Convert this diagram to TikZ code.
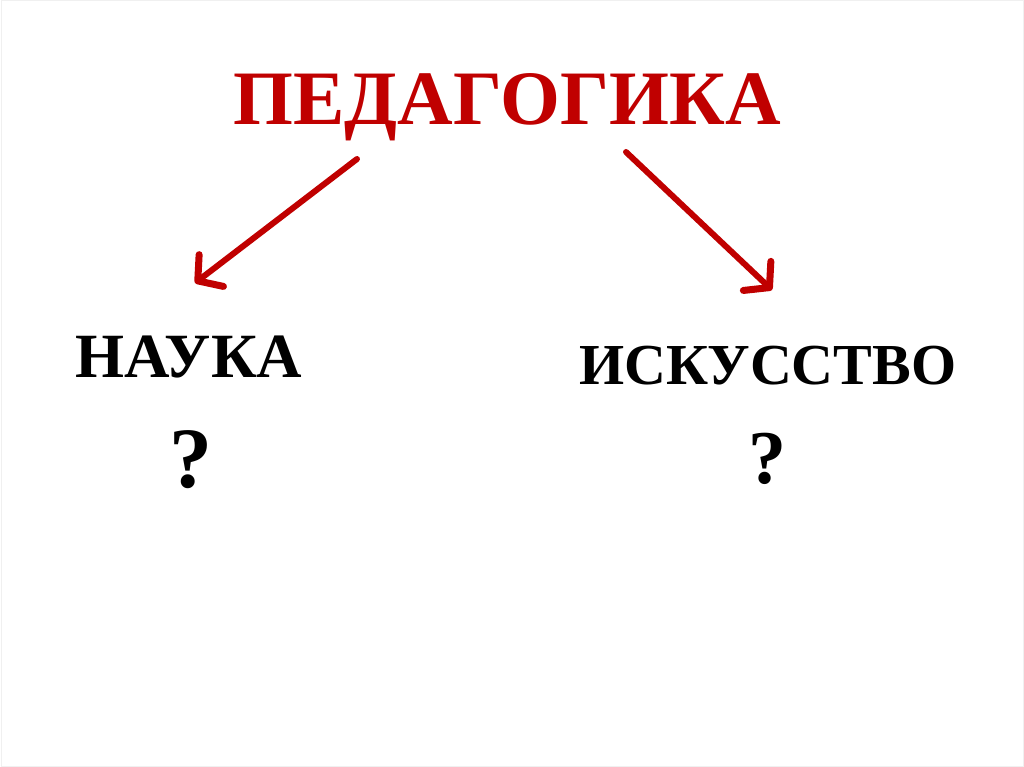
\documentclass[tikz,border=0pt]{standalone}
\usepackage{fontspec}
\setmainfont{Liberation Serif}
\usetikzlibrary{arrows.meta}
\definecolor{titlered}{HTML}{C00000}
\definecolor{arrowred}{HTML}{C00000}
\tikzset{
  titletext/.style={font=\fontsize{77}{85}\selectfont\bfseries, text=titlered, inner sep=0pt},
  naukatext/.style={font=\fontsize{63}{70}\selectfont\bfseries, text=black, inner sep=0pt},
  isktext/.style={font=\fontsize{58}{65}\selectfont\bfseries, text=black, inner sep=0pt},
  qone/.style={font=\fontsize{86}{90}\selectfont\bfseries, text=black, inner sep=0pt},
  qtwo/.style={font=\fontsize{76}{80}\selectfont\bfseries, text=black, inner sep=0pt},
  redarrow/.style={draw=arrowred, line width=6pt, line cap=round,
    -{Straight Barb[length=17pt,width=40pt,line width=7pt,round]}},
}
\begin{document}
\begin{tikzpicture}[x=1pt,y=-1pt]
\useasboundingbox (0,0) rectangle (1024,767);
\fill[white] (0,0) rectangle (1024,767);
\draw[black!6, line width=1pt] (1,1) rectangle (1023,766);
\node[titletext, anchor=base] (title) at (507,125) {ПЕДАГОГИКА};
\node[naukatext, anchor=base] (nauka) at (189,377) {НАУКА};
\node[isktext, anchor=base] (isk) at (768,384) {ИСКУССТВО};
\node[qone, anchor=base] (q1) at (191,487) {?};
\node[qtwo, anchor=base] (q2) at (767,483) {?};
\coordinate (a1s) at (357,159);
\coordinate (a1e) at (195,283);
\coordinate (a2s) at (626,152);
\coordinate (a2e) at (772,290);
\draw[redarrow] (a1s) -- (a1e);
\draw[redarrow] (a2s) -- (a2e);
\end{tikzpicture}
\end{document}
